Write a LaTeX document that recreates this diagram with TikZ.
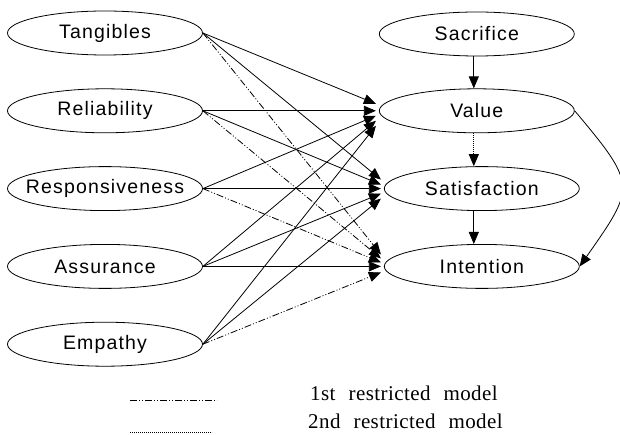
\documentclass[tikz,border=0pt]{standalone}
\usepackage{fontspec}
\setmainfont{Liberation Serif}
\newfontfamily\nodefont[LetterSpace=6]{Liberation Sans}
\newfontfamily\legendfont[LetterSpace=2,WordSpace=2.3]{Liberation Serif}
\usetikzlibrary{positioning, arrows.meta, shapes.geometric}

\begin{document}
\begin{tikzpicture}[
  x=1pt, y=1pt,
  latent/.style={draw, ellipse, line width=0.8pt, minimum width=195pt, minimum height=44pt,
                 inner ysep=0pt, inner xsep=-15pt, font=\nodefont\fontsize{19.5}{22}\selectfont},
  arr/.style={-{Triangle[length=12pt, width=10pt]}, line width=0.8pt},
  rone/.style={dash pattern=on 7pt off 2pt on 1pt off 2pt on 1pt off 2pt},
  rtwo/.style={dash pattern=on 0.8pt off 1.2pt},
  full/.style={solid},
  lgd/.style={font=\legendfont\fontsize{21}{24}\selectfont, anchor=base west, inner sep=0pt},
  node distance=33pt,
]
\useasboundingbox (0,0) rectangle (620,-435);

% --- Service quality dimensions (left column) ---
\node[latent] (tang) at (105,-33) {Tangibles};
\node[latent, below=of tang] (rel) {Reliability};
\node[latent, below=of rel] (resp) {Responsiveness};
\node[latent, below=of resp] (ass) {Assurance};
\node[latent, below=of ass] (emp) {Empathy};

% --- Outcome constructs (right column) ---
\node[latent, right=176pt of rel] (val) {Value};
\node[latent, above=32pt of val] (sac) {Sacrifice};
\node[latent, below=of val, xshift=5pt] (sat) {Satisfaction};
\node[latent, below=of sat] (int) {Intention};

% --- Paths from the five dimensions ---
\foreach \src/\dv/\ds/\di/\st in {tang/7/9/12/rone, rel/0/4/8/rone, resp/-5/0/4/rone,
                                  ass/-10/-5/0/full, emp/-15/-10/-6/rone} {
  \draw[arr] (\src.east) -- ([xshift=-3pt, yshift=\dv pt]val.west);
  \draw[arr] (\src.east) -- ([xshift=-3pt, yshift=\ds pt]sat.west);
  \draw[arr, \st] (\src.east) -- ([xshift=-3pt, yshift=\di pt]int.west);
}

% --- Paths among outcomes ---
\draw[arr] ([xshift=-3pt]sac.south) -- ([xshift=-3pt]val.north);
\draw[arr, rtwo] ([xshift=-3pt]val.south) -- ([xshift=-8pt]sat.north);
\draw[arr] ([xshift=-8pt]sat.south) -- ([xshift=-8pt]int.north);
\draw[arr] (val.east) to[out=-50, in=55, looseness=1.6] (int.east);

% --- Legend ---
\coordinate (l1a) at (130,-400);
\coordinate (l1b) at (217,-400);
\coordinate (l2a) at (130,-432);
\coordinate (l2b) at (212,-432);
\draw[line width=0.8pt, rone] (l1a) -- (l1b);
\draw[line width=0.7pt, rtwo] (l2a) -- (l2b);
\node[lgd] (t1) at (310,-400) {1st restricted model};
\node[lgd] (t2) at (308,-428) {2nd restricted model};

\end{tikzpicture}
\end{document}
